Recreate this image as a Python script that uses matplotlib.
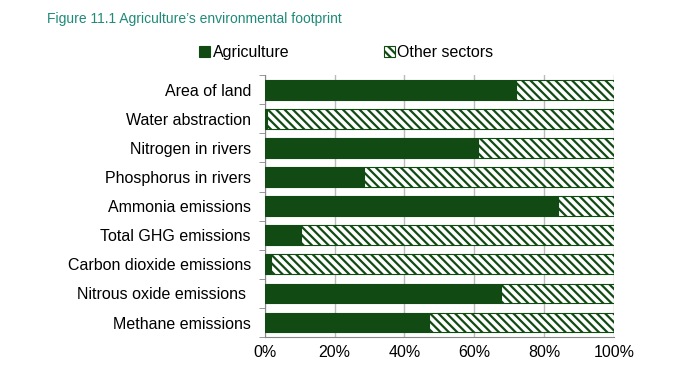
import numpy as np
import matplotlib.pyplot as plt

plt.rcParams['font.family'] = ['Liberation Sans', 'DejaVu Sans']
plt.rcParams['hatch.linewidth'] = 1.6

categories = ["Area of land", "Water abstraction", "Nitrogen in rivers",
              "Phosphorus in rivers", "Ammonia emissions", "Total GHG emissions",
              "Carbon dioxide emissions", "Nitrous oxide emissions ",
              "Methane emissions"]
agriculture = [72, 0.7, 61, 28.5, 84, 10.3, 1.7, 67.6, 47]
other = [100 - a for a in agriculture]

green = "#124a14"

fig = plt.figure(figsize=(6.79, 3.87), dpi=100)
ax = fig.add_axes([0.390, 0.129, 0.514, 0.677])

y = np.arange(len(categories))
ax.barh(y, agriculture, height=0.68, color=green, edgecolor=green,
        linewidth=0.8, label="Agriculture", zorder=3)
ax.barh(y, other, left=agriculture, height=0.68, color="white",
        edgecolor=green, hatch="\\\\\\\\", linewidth=0.8,
        label="Other sectors", zorder=3)

ax.set_ylim(len(categories) - 0.5, -0.5)
ax.set_xlim(0, 100)
ax.set_yticks(y)
ax.set_yticklabels(categories, fontsize=11.5)
ax.set_yticks(np.arange(-0.5, len(categories)), minor=True)
ax.tick_params(axis='y', which='major', length=0, pad=10)
ax.tick_params(axis='y', which='minor', length=4, color="#888888")
ax.set_xticks(np.arange(0, 101, 20))
ax.set_xticklabels([f"{v}%" for v in range(0, 101, 20)], fontsize=11.5)
ax.tick_params(axis='x', length=0, pad=6)
ax.grid(axis='x', color="#bbbbbb", linewidth=1, zorder=0)
for s in ["top", "right"]:
    ax.spines[s].set_visible(False)
ax.spines["left"].set_color("#888888")
ax.spines["bottom"].set_color("#888888")

fig.text(0.069, 0.952, "Figure 11.1 Agriculture\u2019s environmental footprint",
         color="#1f8a78", fontsize=10, va="center")
leg = fig.legend(loc="center", bbox_to_anchor=(0.51, 0.865), ncol=2,
                 frameon=False, fontsize=11.5, handlelength=0.7,
                 handleheight=0.7, handletextpad=0.15, columnspacing=5.9)

fig.savefig("out.png", dpi=100)
